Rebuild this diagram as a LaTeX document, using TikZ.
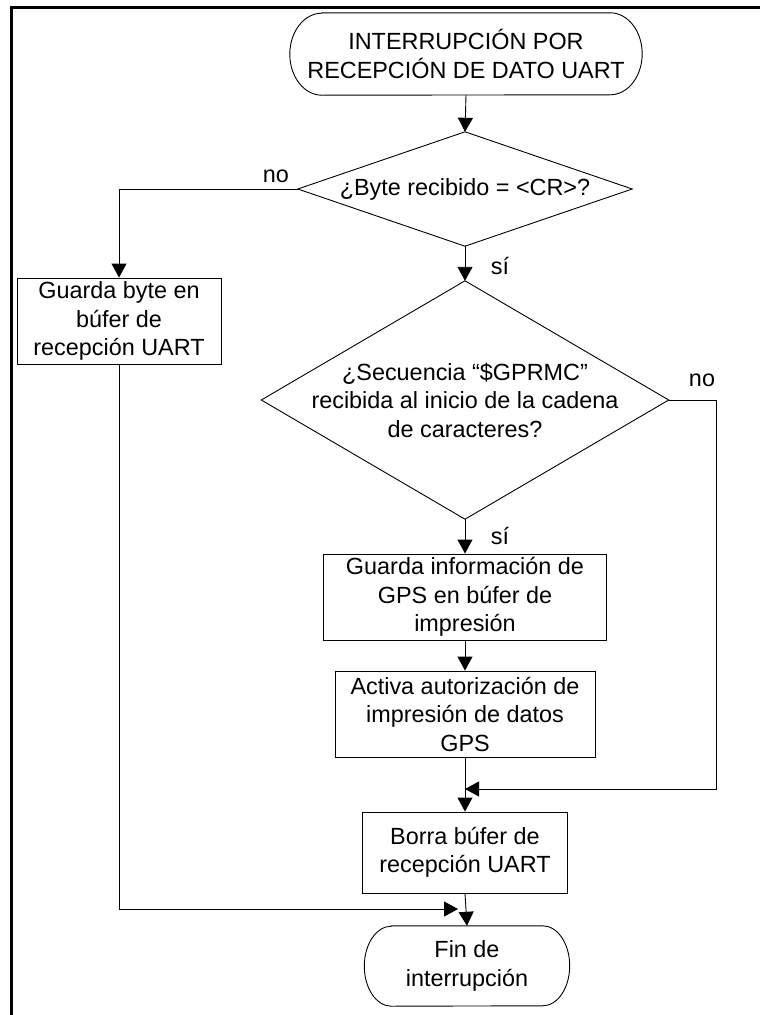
\documentclass[tikz,border=0pt]{standalone}
\usepackage{fontspec}
\setmainfont{Liberation Sans}
\usetikzlibrary{arrows.meta}
\begin{document}
\begin{tikzpicture}[x=1pt,y=1pt,
  txt/.style={font=\fontsize{23.4}{28.5}\selectfont, inner sep=0pt, align=center},
  procbox/.style={txt, draw, line width=0.9pt},
  hidden/.style={txt, draw=none},
  lbl/.style={font=\fontsize{23.4}{28.5}\selectfont, inner sep=0pt},
  shapeline/.style={line width=0.9pt},
  arr/.style={-{Triangle[length=14pt,width=15pt]}, line width=0.9pt},
  conn/.style={line width=0.9pt},
  frameline/.style={line width=3.5pt}
]
\useasboundingbox (0,0) rectangle (760,-1015);
% frame
\draw[frameline] (760,-7.5) -- (11.5,-7.5) -- (11.5,-1015);

% start terminal
\node[hidden, minimum width=352pt, minimum height=82pt] (start) at (466,-54)
  {INTERRUPCIÓN POR\\RECEPCIÓN DE DATO UART};
\draw[shapeline] ([xshift=32pt]start.north west) -- ([xshift=-32pt]start.north east)
  arc[start angle=90, end angle=-90, x radius=32pt, y radius=41pt]
  -- ([xshift=32pt]start.south west)
  arc[start angle=270, end angle=90, x radius=32pt, y radius=41pt] -- cycle;

% decision 1
\node[hidden, minimum width=334pt, minimum height=114pt] (d1) at (465,-189)
  {¿Byte recibido = <CR>?};
\draw[shapeline] (d1.north) -- (d1.east) -- (d1.south) -- (d1.west) -- cycle;

% left box
\node[procbox, minimum width=204pt, minimum height=86pt] (lb) at (119,-321)
  {Guarda byte en\\búfer de\\recepción UART};

% decision 2
\node[hidden, minimum width=407pt, minimum height=238pt] (d2) at (465,-400)
  {¿Secuencia “\$GPRMC”\\recibida al inicio de la cadena\\de caracteres?};
\draw[shapeline] (d2.north) -- (d2.east) -- (d2.south) -- (d2.west) -- cycle;

% boxes
\node[procbox, minimum width=283pt, minimum height=86pt] (ba) at (465,-597)
  {Guarda información de\\GPS en búfer de\\impresión};
\node[procbox, minimum width=260pt, minimum height=86pt] (bb) at (465,-714)
  {Activa autorización de\\impresión de datos\\GPS};
\node[procbox, minimum width=205pt, minimum height=81pt] (bc) at (465,-852.5)
  {Borra búfer de\\recepción UART};

% end terminal
\node[hidden, minimum width=205pt, minimum height=80pt] (fin) at (467,-966)
  {Fin de\\interrupción};
\draw[shapeline] ([xshift=27pt]fin.north west) -- ([xshift=-27pt]fin.north east)
  arc[start angle=90, end angle=-90, x radius=27pt, y radius=40pt]
  -- ([xshift=27pt]fin.south west)
  arc[start angle=270, end angle=90, x radius=27pt, y radius=40pt] -- cycle;

% labels
\node[lbl] (no1) at (276,-176) {no};
\node[lbl] (si1) at (500,-266) {sí};
\node[lbl] (no2) at (702,-380) {no};
\node[lbl] (si2) at (500,-536) {sí};

% helper coordinates
\coordinate (rr) at (716,-789);
\coordinate (m1) at (465,-789);
\coordinate (m2) at (458,-909);

% connectors
\draw[arr] (start.south) -- (d1.north);
\draw[arr] (d1.west) -| (lb.north);
\draw[arr] (d1.south) -- (d2.north);
\draw[arr] (d2.south) -- (ba.north);
\draw[arr] (ba.south) -- (bb.north);
\draw[arr] (bb.south) -- (bc.north);
\draw[arr] (d2.east) -| (rr) -- (m1);
\draw[arr] (lb.south) |- (m2);
\draw[arr] (bc.south) -- (fin.north);
\end{tikzpicture}
\end{document}
